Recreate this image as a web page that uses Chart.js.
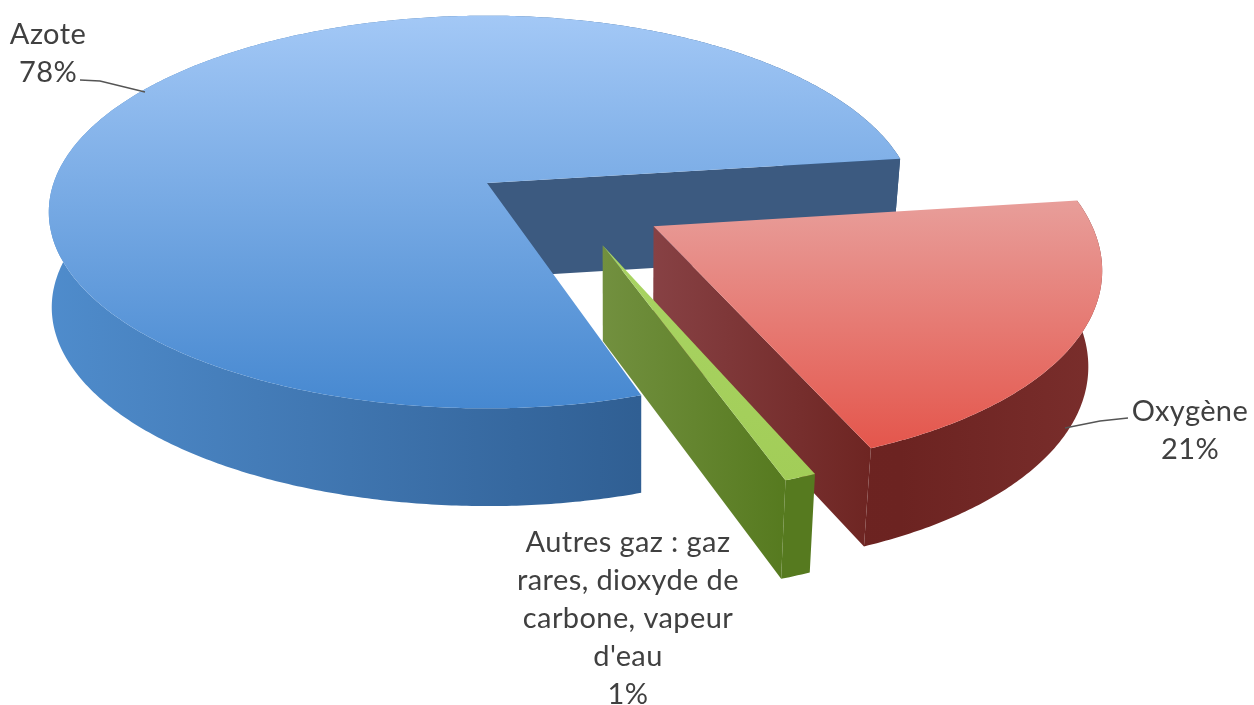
<!DOCTYPE html>
<html lang="fr">
<head>
<meta charset="utf-8">
<title>Composition de l'air</title>
<script src="https://cdn.jsdelivr.net/npm/chart.js@4"></script>
<style>
  html, body { margin: 0; padding: 0; background: #fff; }
  canvas { display: block; filter: blur(0.6px); }
</style>
</head>
<body>
<canvas id="camembert" width="1254" height="705"></canvas>
<script>
// Données du graphique
const categories = [
  ['Azote'],
  ['Oxygène'],
  ['Autres gaz : gaz', 'rares, dioxyde de', 'carbone, vapeur', "d'eau"]
];
const valeurs = [78, 21, 1];

// Couleurs de chaque part : dessus (haut, bas), côté (gauche, milieu, droite), paroi (gauche, droite)
const dessusHaut = ['#a3c8f6', '#e89e9a', '#a9d463'];
const dessusBas = ['#4688d0', '#e4564c', '#a2cd58'];
const coteGauche = ['#4f8ccc', '#6e2522', '#567a1f'];
const coteMilieu = ['#36689f', '#6c2321', '#567a1f'];
const coteDroite = ['#234c7a', '#7a2e2c', '#567a1f'];
const paroiGauche = ['#3c5a80', '#874144', '#72903f'];
const paroiDroite = ['#3c5a80', '#6e2522', '#567a1f'];

// Décalage de chaque part dans le plan du camembert (parts éclatées)
const decalages = [[0, 0], [0.374, 0.215], [0.256, 0.305]];

// Projection en perspective du plan du camembert vers l'écran
const centreX = 487, centreY = 183;
const demiXGauche = 440, demiXDroite = 431, demiY = 195, fuite = 0.15, rayon = 0.985;

function projeter(u, v) {
  const w = 1 - fuite * v;
  const demiX = u > 0 ? demiXDroite : demiXGauche;
  return [centreX + demiX * u / w, centreY + demiY * v / w];
}

// Le point du bas de la paroi, sous un point du dessus
function descendre(p) {
  const x = p[0] - 0.03 * Math.max(0, p[0] - 640) + 0.005 * Math.max(0, 640 - p[0]);
  return [x, p[1] + 95 + 0.012 * (p[1] - centreY)];
}

function remplir(ctx, points, style) {
  ctx.beginPath();
  points.forEach((p, i) => i ? ctx.lineTo(p[0], p[1]) : ctx.moveTo(p[0], p[1]));
  ctx.closePath();
  ctx.fillStyle = style;
  ctx.fill();
}

const camembert3d = {
  id: 'camembert3d',
  beforeDatasetsDraw(chart) {
    const ctx = chart.ctx;
    const parts = chart.getDatasetMeta(0).data;
    // ordre de dessin : du fond vers l'avant
    parts.forEach((part, i) => {
      const [du, dv] = decalages[i];
      const pas = Math.ceil((part.endAngle - part.startAngle) / 0.01);
      const bord = [];
      for (let n = 0; n <= pas; n++) {
        const a = part.startAngle + (part.endAngle - part.startAngle) * n / pas;
        bord.push(projeter(du + rayon * Math.cos(a), dv + rayon * Math.sin(a)));
      }
      const sommet = projeter(du, dv);
      const fin = bord[bord.length - 1];
      const xs = bord.map(p => p[0]).concat(sommet[0]);
      const ys = bord.map(p => p[1]).concat(sommet[1]);

      // côté extérieur
      const grad = ctx.createLinearGradient(Math.min(...xs), 0, Math.max(...xs), 0);
      grad.addColorStop(0, coteGauche[i]);
      grad.addColorStop(0.55, coteMilieu[i]);
      grad.addColorStop(1, coteDroite[i]);
      remplir(ctx, bord.concat(bord.map(descendre).reverse()), grad);

      // paroi droite : seule celle de la fin de la part se voit
      const gradParoi = ctx.createLinearGradient(sommet[0], 0, fin[0], 0);
      gradParoi.addColorStop(0, paroiGauche[i]);
      gradParoi.addColorStop(1, paroiDroite[i]);
      remplir(ctx, [sommet, fin, descendre(fin), descendre(sommet)], gradParoi);

      // dessus
      const gradDessus = ctx.createLinearGradient(0, Math.min(...ys), 0, Math.max(...ys));
      gradDessus.addColorStop(0, dessusHaut[i]);
      gradDessus.addColorStop(1, dessusBas[i]);
      remplir(ctx, [sommet].concat(bord), gradDessus);
    });
    return false; // les arcs plats de Chart.js ne sont pas dessinés
  },
  afterDraw(chart) {
    const ctx = chart.ctx;
    // traits de rappel
    ctx.strokeStyle = '#555';
    ctx.lineWidth = 1.4;
    [[[80, 80], [100, 81], [145, 92]], [[1128, 418], [1100, 421], [1065, 428]]].forEach(trait => {
      ctx.beginPath();
      trait.forEach((p, i) => i ? ctx.lineTo(p[0], p[1]) : ctx.moveTo(p[0], p[1]));
      ctx.stroke();
    });
    // étiquettes
    const ancres = [[48, 35], [1190, 412], [628, 543]];
    ctx.font = '29px Lato';
    ctx.letterSpacing = '0.4px';
    ctx.fillStyle = '#404040';
    ctx.textAlign = 'center';
    ctx.textBaseline = 'middle';
    categories.forEach((lignes, i) => {
      lignes.concat(valeurs[i] + '%').forEach((ligne, n) => {
        ctx.fillText(ligne, ancres[i][0], ancres[i][1] + n * 38);
      });
    });
  }
};

new Chart(document.getElementById('camembert'), {
  type: 'pie',
  data: {
    labels: categories,
    datasets: [{ data: valeurs, backgroundColor: dessusBas }]
  },
  options: {
    responsive: false,
    animation: false,
    rotation: 161.8,
    plugins: { legend: { display: false }, tooltip: { enabled: false } }
  },
  plugins: [camembert3d]
});
</script>
</body>
</html>
